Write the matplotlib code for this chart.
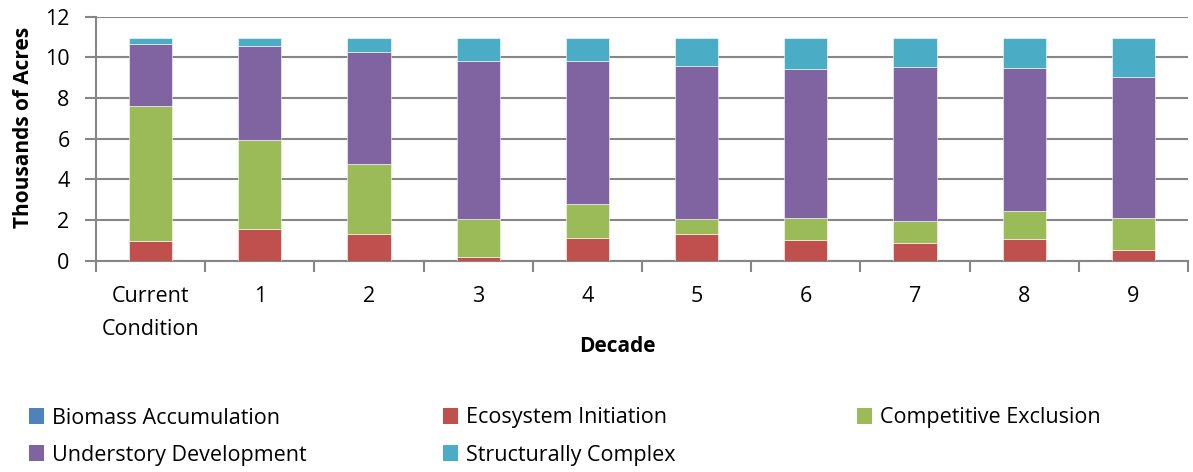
import matplotlib
matplotlib.use("Agg")
import matplotlib.pyplot as plt
import numpy as np
from matplotlib.patches import Patch

categories = ["Current\nCondition", "1", "2", "3", "4", "5", "6", "7", "8", "9"]
biomass = [0, 0, 0, 0, 0, 0, 0, 0, 0, 0]
ecosystem = [0.95, 1.56, 1.30, 0.18, 1.12, 1.30, 1.02, 0.85, 1.05, 0.51]
competitive = [6.68, 4.39, 3.48, 1.89, 1.66, 0.75, 1.08, 1.12, 1.37, 1.61]
understory = [3.04, 4.62, 5.49, 7.76, 7.02, 7.53, 7.35, 7.56, 7.07, 6.92]
structural = [0.30, 0.40, 0.70, 1.14, 1.17, 1.39, 1.52, 1.44, 1.48, 1.93]

series_names = ["Biomass Accumulation", "Ecosystem Initiation", "Competitive Exclusion",
                "Understory Development", "Structurally Complex"]
colors = ["#4F81BD", "#C0504D", "#9BBB59", "#8064A2", "#4BACC6"]

plt.rcParams['font.family'] = ['Open Sans', 'DejaVu Sans']

W, H = 1193, 472
fig = plt.figure(figsize=(W / 100, H / 100), dpi=100)
left, right, top, bot = 96, 1188, 16.7, 260.7
ax = fig.add_axes([left / W, 1 - bot / H, (right - left) / W, (bot - top) / H])

x = np.arange(len(categories))
bottom = np.zeros(len(categories))
for vals, c in zip([biomass, ecosystem, competitive, understory, structural], colors):
    v = np.array(vals, dtype=float)
    ax.bar(x, v, 0.395, bottom=bottom, color=c, edgecolor='white', linewidth=0.4, zorder=3)
    bottom += v

ax.set_xlim(-0.5, len(categories) - 0.5)
ax.set_ylim(0, 12)
ax.set_yticks(np.arange(0, 13, 2))
ax.yaxis.grid(True, color='#868686', linewidth=1.5, zorder=0)
ax.set_axisbelow(True)
for s in ['top', 'right']:
    ax.spines[s].set_visible(False)
for s in ['left', 'bottom']:
    ax.spines[s].set_color('#868686')
    ax.spines[s].set_linewidth(1.5)

fs = 15.5
ax.set_xticks(np.arange(-0.5, len(categories)), minor=False)
ax.set_xticklabels([])
ax.set_xticks(x, minor=True)
ax.set_xticklabels(categories, minor=True, fontsize=fs, linespacing=1.75)
ax.tick_params(axis='x', which='major', length=8, width=1.5, color='#868686', direction='out')
ax.tick_params(axis='x', which='minor', length=0, pad=18.5)
ax.tick_params(axis='y', length=8, width=1.5, color='#868686', labelsize=fs, pad=11)

fig.text(24 / W, 1 - 127.5 / H, "Thousands of Acres", rotation=90, ha='center', va='center',
         fontsize=15, fontweight='bold')
fig.text(617 / W, 1 - 347 / H, "Decade", ha='center', va='center', fontsize=15, fontweight='bold')

handles = [Patch(facecolor=c, edgecolor='none') for c in colors]
positions = [(29, 418), (443, 418), (857, 418), (29, 455), (443, 455)]
for i, (px, py) in enumerate(positions):
    fig.legend([handles[i]], [series_names[i]],
               loc='center left', bbox_to_anchor=(px / W, 1 - py / H),
               frameon=False, fontsize=fs, handlelength=0.7, handleheight=0.7,
               handletextpad=0.37, borderaxespad=0, borderpad=0)

fig.savefig("out.png", dpi=100)
